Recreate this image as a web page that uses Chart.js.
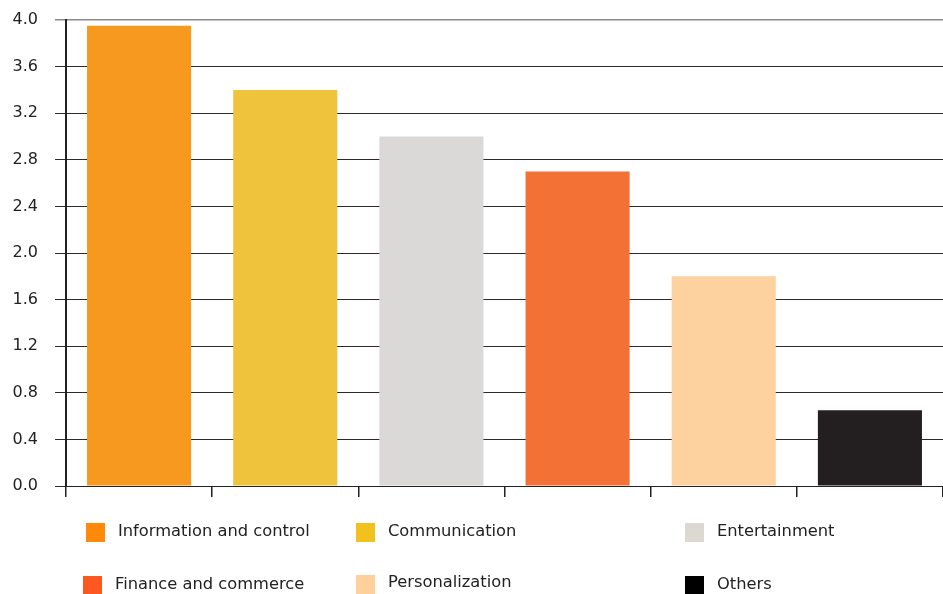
<!DOCTYPE html>
<html>
<head>
<meta charset="utf-8">
<script src="https://cdn.jsdelivr.net/npm/chart.js@4/dist/chart.umd.min.js"></script>
<style>
  html, body { margin: 0; padding: 0; background: #ffffff; }
  #wrap { position: relative; width: 943px; height: 594px; }
</style>
</head>
<body>
<div id="wrap"><canvas id="c" width="943" height="594"></canvas></div>
<script>
// Service categories and their values
const categories = [
  'Information and control',
  'Communication',
  'Entertainment',
  'Finance and commerce',
  'Personalization',
  'Others'
];
const values = [3.95, 3.4, 3.0, 2.7, 1.8, 0.65];
const barColors = ['#F7991E', '#F0C33C', '#DAD9D7', '#F37134', '#FDD29F', '#231F20'];
const legendColors = ['#FF8A0A', '#F2C11E', '#DCD9D2', '#FF5722', '#FFD09C', '#000000'];
const yTicks = [0.0, 0.4, 0.8, 1.2, 1.6, 2.0, 2.4, 2.8, 3.2, 3.6, 4.0];

const FONT = '"DejaVu Sans", Verdana, sans-serif';

// Legend grid placement: [swatch x, swatch y, swatch size, text x, text y]
const legendSlots = [
  [86, 523, 19, 118, 532],
  [356, 523, 19, 388, 532],
  [685, 523, 19, 717, 532],
  [83, 576, 19, 115, 585],
  [356, 575, 19, 388, 583],
  [685, 576, 19, 717, 585]
];

const bottomLegend = {
  id: 'bottomLegend',
  afterDraw(chart) {
    const ctx = chart.ctx;
    ctx.save();
    ctx.font = '16.3px ' + FONT;
    ctx.textBaseline = 'middle';
    ctx.textAlign = 'left';
    categories.forEach((name, i) => {
      const s = legendSlots[i];
      ctx.fillStyle = legendColors[i];
      ctx.fillRect(s[0], s[1], s[2], s[2]);
      ctx.fillStyle = '#222222';
      ctx.fillText(name, s[3], s[4]);
    });
    ctx.restore();
  }
};

new Chart(document.getElementById('c'), {
  type: 'bar',
  data: {
    labels: categories,
    datasets: [{
      data: values,
      backgroundColor: barColors,
      borderWidth: 0,
      barPercentage: 0.712,
      categoryPercentage: 1.0
    }]
  },
  options: {
    responsive: false,
    animation: false,
    devicePixelRatio: 1,
    layout: { padding: { top: 20, right: 0, left: 0, bottom: 0 } },
    plugins: {
      legend: { display: false },
      tooltip: { enabled: false }
    },
    scales: {
      x: {
        offset: true,
        grid: {
          offset: true,
          drawOnChartArea: false,
          drawTicks: true,
          tickLength: 11,
          color: '#222222',
          lineWidth: 1.5
        },
        border: { display: true, color: '#222222', width: 1 },
        ticks: { display: true, callback: () => '', font: { size: 1 } },
        afterFit(scale) { scale.height = 108; }
      },
      y: {
        min: 0,
        max: 4,
        afterBuildTicks(scale) { scale.ticks = yTicks.map(v => ({ value: v })); },
        grid: {
          color: (ctx) => (ctx.tick && ctx.tick.value === 4 ? '#8a8a8a' : '#2a2a2a'),
          lineWidth: (ctx) => (ctx.tick && ctx.tick.value === 4 ? 1.5 : 1),
          tickLength: 11,
          drawTicks: true
        },
        border: { display: true, color: '#222222', width: 2 },
        ticks: {
          padding: 17,
          color: '#222222',
          font: { family: FONT, size: 16 },
          callback: (v) => Number(v).toFixed(1)
        },
        afterFit(scale) {
          scale.width = 66;
          scale.paddingTop = 10;
          scale.paddingBottom = 10;
        }
      }
    }
  },
  plugins: [bottomLegend]
});
</script>
</body>
</html>
